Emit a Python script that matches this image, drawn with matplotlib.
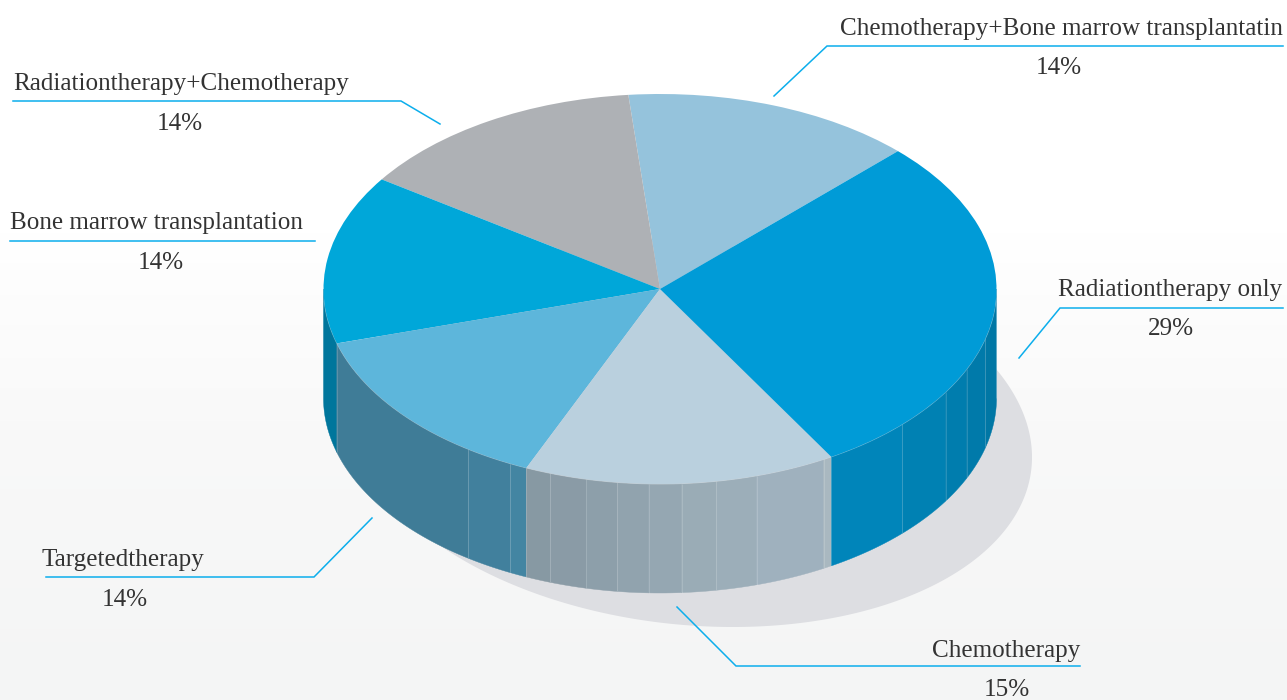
import numpy as np
import matplotlib
matplotlib.use("Agg")
import matplotlib.pyplot as plt
from matplotlib.colors import LinearSegmentedColormap

# ---- data (counter-clockwise from the start angle) ----
categories = ["Chemotherapy+Bone marrow transplantatin", "Radiationtherapy+Chemotherapy",
              "Bone marrow transplantation", "Targetedtherapy", "Chemotherapy",
              "Radiationtherapy only"]
values = [14, 14, 14, 14, 15, 29]

# ---- style ----
top_colors = ["#95C3DC", "#AEB1B5", "#00A7D9", "#5DB6DB", "#BAD0DE", "#009BD7"]
# facets of the side wall: slice index -> (end angle of facet, colour)
wall_facets = {
    2: [(196.2, "#00769C")],
    3: [(235.3, "#3F7C97"), (243.6, "#41809D"), (246.6, "#4385A2")],
    4: [(251.0, "#8799A3"), (257.3, "#8A9BA6"), (262.7, "#8D9FAA"), (268.1, "#91A3AE"),
        (273.7, "#95A7B2"), (279.6, "#9AACB6"), (286.7, "#9CAEB9"), (299.1, "#9FB1BE"),
        (300.6, "#A9B8C0")],
    5: [(316.1, "#0085BA"), (328.1, "#0081B3"), (335.7, "#007DAE"), (345.3, "#007AAA"),
        (360.0, "#0077A5")],
}
W, H = 1287, 700
CX, CY, RX, RY = 660, 289, 336.5, 195
WALL = 109 / RY
TXT = "#333333"
LINE = "#0CAEEC"
FONT = "Liberation Serif"
FS = 18.1

fig = plt.figure(figsize=(W / 100, H / 100), dpi=100)

# background gradient
bg = fig.add_axes([0, 0, 1, 1], zorder=0)
bg.axis("off")
cmap = LinearSegmentedColormap.from_list("bg", [(0, "#FFFFFF"), (0.33, "#FFFFFF"),
                                                (0.6, "#F9F9F9"), (1, "#F4F5F5")])
bg.imshow(np.linspace(0, 1, H)[:, None], aspect="auto", cmap=cmap, vmin=0, vmax=1,
          extent=[0, W, H, 0])

# pie axes: one data unit is the ellipse radius
ax = fig.add_axes([0, 0, 1, 1], zorder=1)
ax.patch.set_alpha(0)

# shadow
t = np.linspace(0, 2 * np.pi, 400)
r = 0.12
sx = 340 / RX
sy = 193 / RY
scx = (692 - CX) / RX
scy = (CY - 434) / RY
ax.fill(scx + sx * np.cos(t), scy - sy * (r * np.cos(t) + np.sqrt(1 - r * r) * np.sin(t)),
        color="#DDDEE2", lw=0, zorder=1)

# side wall
edges = 45 + 360 * np.cumsum([0] + values) / sum(values)
for i, facets in wall_facets.items():
    start = max(edges[i], 180.0)
    for end, col in facets:
        a = np.radians(np.linspace(start, end, 40))
        x = np.cos(a)
        y = np.sin(a)
        ax.fill(np.r_[x, x[::-1]], np.r_[y, y[::-1] - WALL], color=col, lw=0.3, ec=col, zorder=2)
        ax.plot([x[-1], x[-1]], [y[-1], y[-1] - WALL], color="#FFFFFF", alpha=0.16, lw=0.7,
                zorder=3, solid_capstyle="butt")
        start = end

# light rim between wall and top face
a = np.radians(np.linspace(180, 360, 200))
ax.plot(np.cos(a), np.sin(a), color="#FFFFFF", alpha=0.35, lw=0.7, zorder=3.5)

# top face
ax.pie(values, colors=top_colors, startangle=45, counterclock=True, radius=1,
       wedgeprops=dict(linewidth=0))
for w in ax.patches[-len(values):]:
    w.set_zorder(4)
ax.set_aspect("auto")
ax.set_xlim(-CX / RX, (W - CX) / RX)
ax.set_ylim((CY - H) / RY, CY / RY)
ax.axis("off")

# labels in pixel coordinates
ov = fig.add_axes([0, 0, 1, 1], zorder=2)
ov.patch.set_alpha(0)
ov.set_xlim(0, W)
ov.set_ylim(H, 0)
ov.axis("off")

label_layout = [
    (1283, 35, "right", 1059, 74, [(774, 96), (827, 46), (1283, 46)]),
    (13, 90, "left", 180, 130, [(13, 101), (401, 101), (440, 124)]),
    (10, 229, "left", 161, 269, [(10, 241), (315, 241)]),
    (41, 566, "left", 125, 606, [(46, 577), (314, 577), (372, 518)]),
    (1080, 657, "right", 1007, 696, [(677, 607), (736, 666), (1080, 666)]),
    (1282, 296, "right", 1171, 335, [(1019, 358), (1060, 308), (1283, 308)]),
]
for name, v, (lx, ly, ha, px, py, path) in zip(categories, values, label_layout):
    ov.text(lx, ly, name, ha=ha, va="baseline", family=FONT, fontsize=FS, color=TXT)
    ov.text(px, py, f"{v}%", ha="center", va="baseline", family=FONT, fontsize=FS, color=TXT)
    xs, ys = zip(*path)
    ov.plot(xs, ys, color=LINE, lw=1.1, solid_joinstyle="miter")

fig.savefig("out.png", dpi=100)
